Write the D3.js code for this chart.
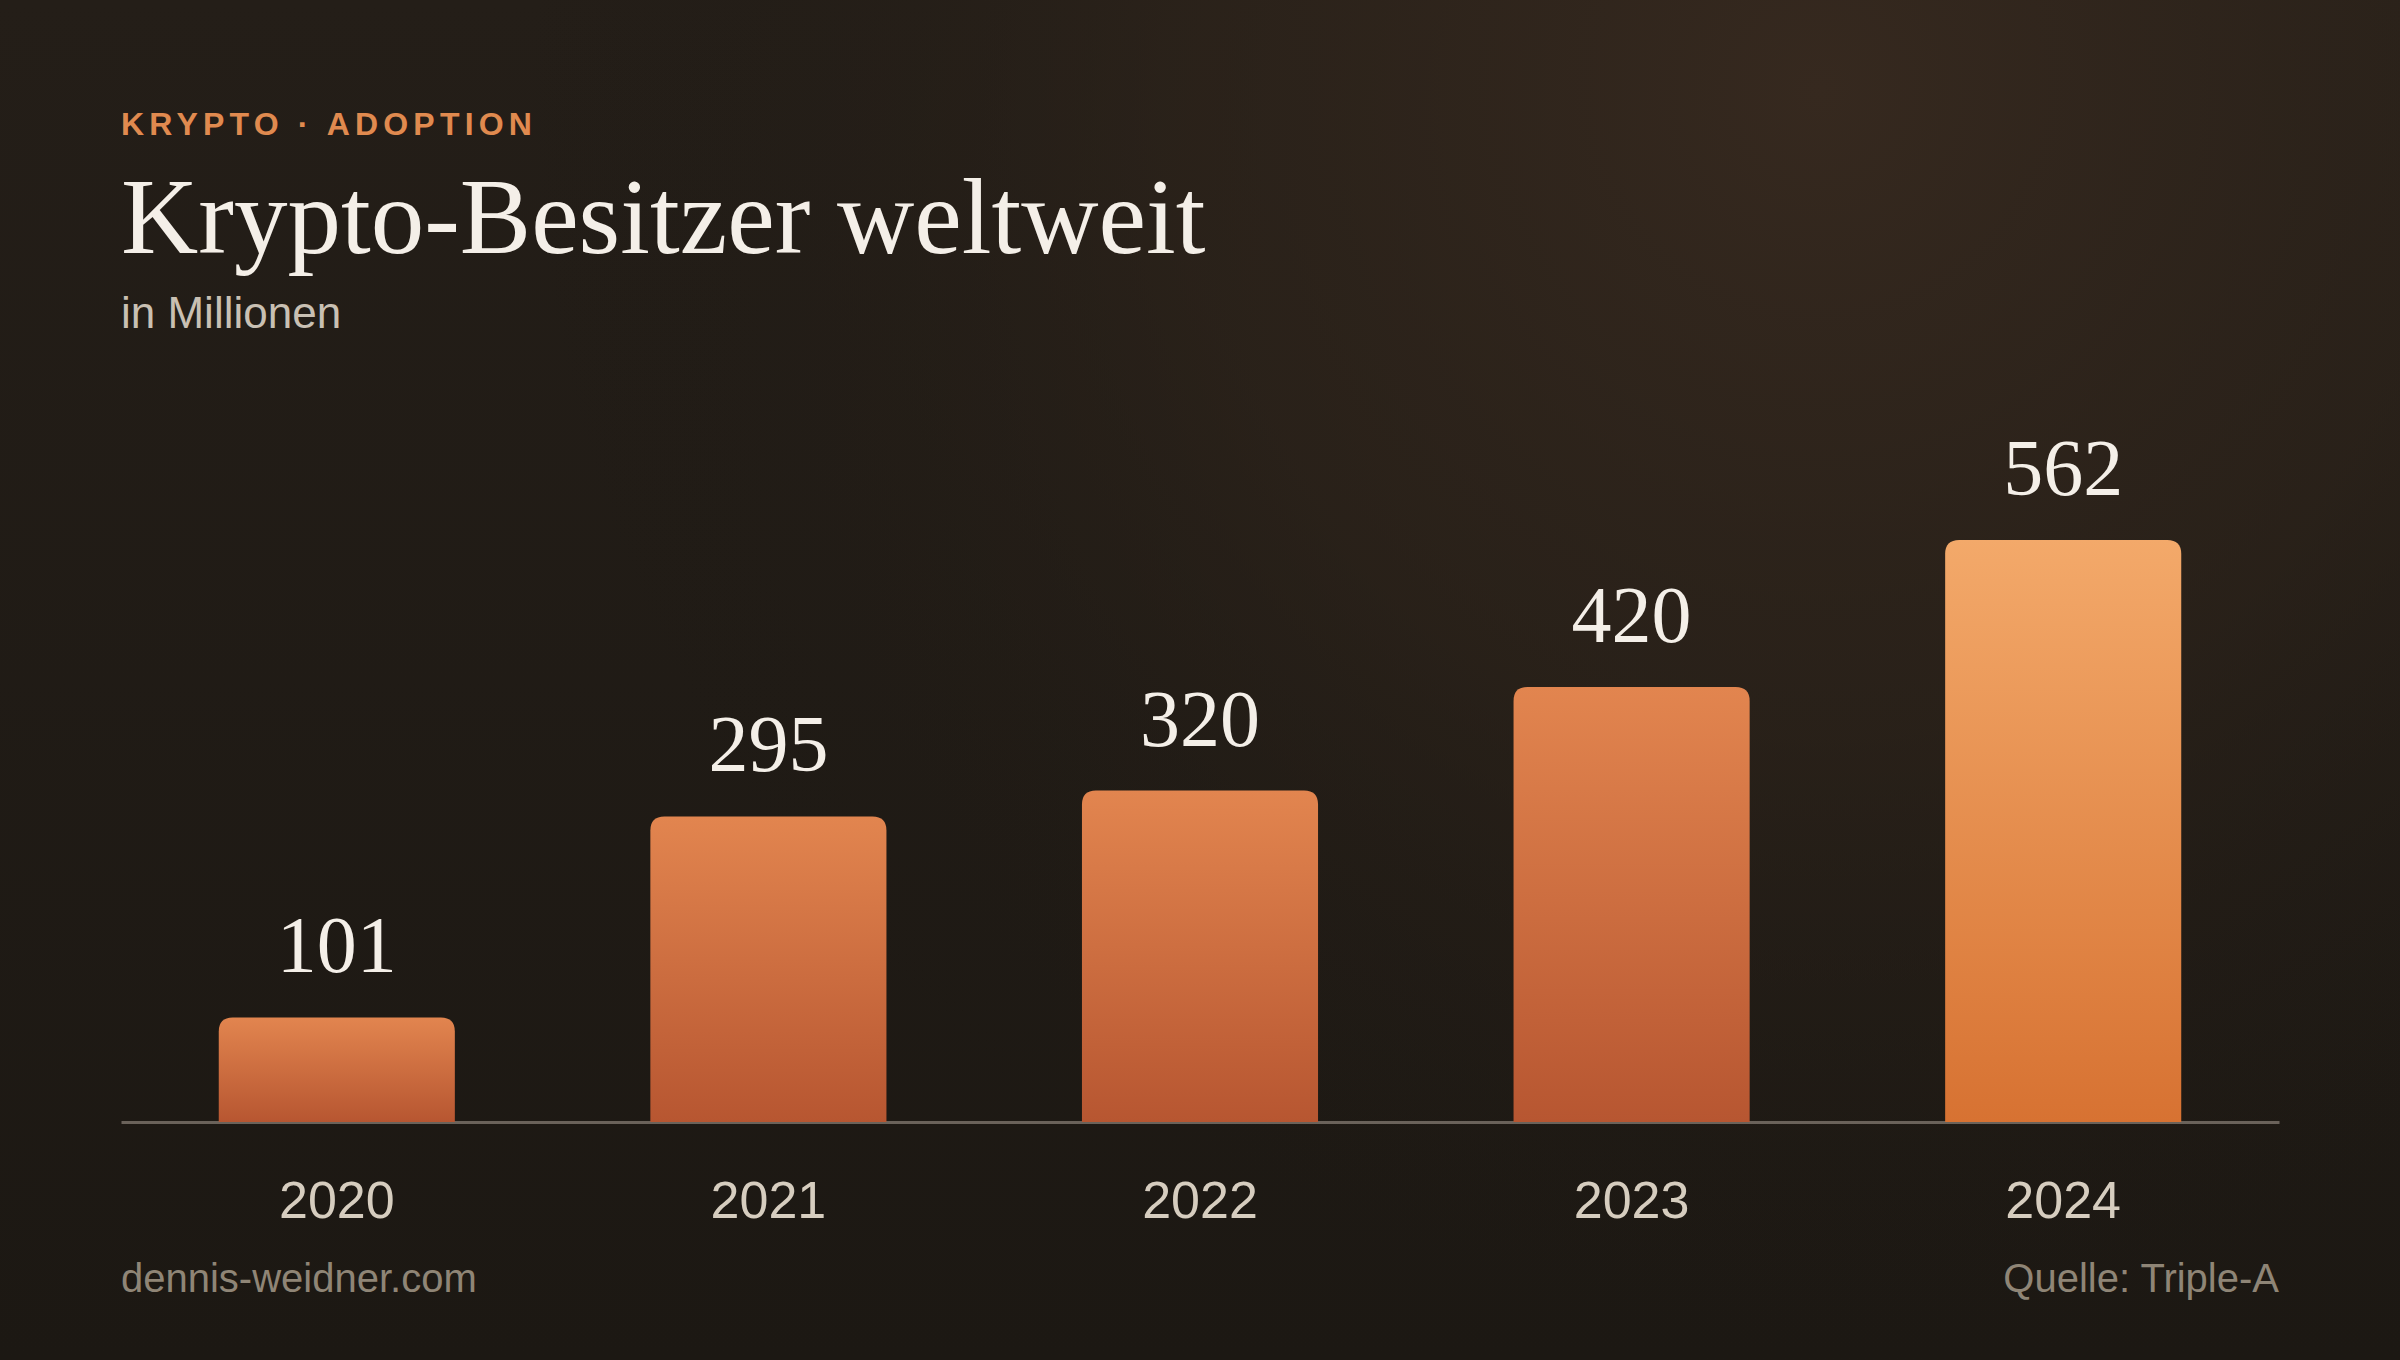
<!DOCTYPE html>
<html>
<head>
<meta charset="utf-8">
<script src="https://cdn.jsdelivr.net/npm/d3@7"></script>
<style>
  html, body { margin: 0; padding: 0; background: #1e1a15; }
  svg { display: block; }
</style>
</head>
<body>
<svg id="chart" width="2400" height="1360"></svg>
<script>
const years = ["2020", "2021", "2022", "2023", "2024"];
const owners = [101, 295, 320, 420, 562];
const highlightYear = "2024";

const kicker = "KRYPTO · ADOPTION";
const title = "Krypto-Besitzer weltweit";
const subtitle = "in Millionen";
const footerLeft = "dennis-weidner.com";
const footerRight = "Quelle: Triple-A";

const W = 2400, H = 1360;
const left = 121, right = 2279, baseY = 1122;

const svg = d3.select("#chart");
const defs = svg.append("defs");

// background
const bg = defs.append("linearGradient").attr("id", "bgLin")
  .attr("x1", 0).attr("y1", 0).attr("x2", 0).attr("y2", 1);
bg.append("stop").attr("offset", 0).attr("stop-color", "#241e18");
bg.append("stop").attr("offset", 1).attr("stop-color", "#1c1813");
const glow = defs.append("radialGradient").attr("id", "bgGlow")
  .attr("gradientUnits", "userSpaceOnUse")
  .attr("cx", 1820).attr("cy", 90).attr("r", 1300);
glow.append("stop").attr("offset", 0).attr("stop-color", "#36291f").attr("stop-opacity", 1);
glow.append("stop").attr("offset", 0.5).attr("stop-color", "#2e241b").attr("stop-opacity", 0.6);
glow.append("stop").attr("offset", 1).attr("stop-color", "#1c1813").attr("stop-opacity", 0);

svg.append("rect").attr("width", W).attr("height", H).attr("fill", "url(#bgLin)");
svg.append("rect").attr("width", W).attr("height", H).attr("fill", "url(#bgGlow)");

// bar gradients
const gNorm = defs.append("linearGradient").attr("id", "barNorm")
  .attr("x1", 0).attr("y1", 0).attr("x2", 0).attr("y2", 1);
gNorm.append("stop").attr("offset", 0).attr("stop-color", "#e2854f");
gNorm.append("stop").attr("offset", 1).attr("stop-color", "#b75631");
const gHi = defs.append("linearGradient").attr("id", "barHi")
  .attr("x1", 0).attr("y1", 0).attr("x2", 0).attr("y2", 1);
gHi.append("stop").attr("offset", 0).attr("stop-color", "#f3a96a");
gHi.append("stop").attr("offset", 1).attr("stop-color", "#d77232");

// scales
const x = d3.scaleBand().domain(years).range([left, right])
  .paddingInner(0.453).paddingOuter(0.2265);
const y = d3.scaleLinear().domain([0, 600]).range([baseY, baseY - 600 * 1.0356]);

const data = years.map((yr, i) => ({ year: yr, value: owners[i] }));

function topRounded(x0, y0, w, h, r) {
  r = Math.min(r, h, w / 2);
  return `M${x0},${y0 + h}V${y0 + r}Q${x0},${y0} ${x0 + r},${y0}` +
         `H${x0 + w - r}Q${x0 + w},${y0} ${x0 + w},${y0 + r}V${y0 + h}Z`;
}

// header
svg.append("text").attr("x", left).attr("y", 135)
  .attr("font-family", "Liberation Sans, Arial, sans-serif")
  .attr("font-weight", 700).attr("font-size", 32).attr("letter-spacing", 5.2)
  .attr("fill", "#e08a4f").text(kicker);
svg.append("text").attr("x", left).attr("y", 253)
  .attr("font-family", "Liberation Serif, Times New Roman, serif")
  .attr("font-size", 107).attr("fill", "#f4efe8").text(title);
svg.append("text").attr("x", left).attr("y", 328)
  .attr("font-family", "Liberation Sans, Arial, sans-serif")
  .attr("font-size", 44).attr("fill", "#c9c0b3").text(subtitle);

// axis
const axis = svg.append("g").attr("transform", `translate(0,${baseY})`)
  .call(d3.axisBottom(x).tickSize(0).tickSizeOuter(0).tickPadding(59));
axis.select(".domain").attr("stroke", "#6a625a").attr("stroke-width", 3);
axis.selectAll(".tick text")
  .attr("font-family", "Liberation Sans, Arial, sans-serif")
  .attr("font-size", 52).attr("fill", "#d6cdbf");

// bars
svg.append("g").selectAll("path").data(data).join("path")
  .attr("d", d => topRounded(x(d.year), y(d.value), x.bandwidth(), y(0) - y(d.value), 14))
  .attr("fill", d => d.year === highlightYear ? "url(#barHi)" : "url(#barNorm)");

// value labels
svg.append("g").selectAll("text").data(data).join("text")
  .attr("x", d => x(d.year) + x.bandwidth() / 2)
  .attr("y", d => y(d.value) - 45)
  .attr("text-anchor", "middle")
  .attr("font-family", "Liberation Serif, Times New Roman, serif")
  .attr("font-size", 80).attr("fill", "#f4efe8")
  .text(d => d.value);

// footer
svg.append("text").attr("x", left).attr("y", 1292)
  .attr("font-family", "Liberation Sans, Arial, sans-serif")
  .attr("font-size", 40).attr("fill", "#8f8576").text(footerLeft);
svg.append("text").attr("x", right).attr("y", 1292).attr("text-anchor", "end")
  .attr("font-family", "Liberation Sans, Arial, sans-serif")
  .attr("font-size", 40).attr("fill", "#8f8576").text(footerRight);
</script>
</body>
</html>
